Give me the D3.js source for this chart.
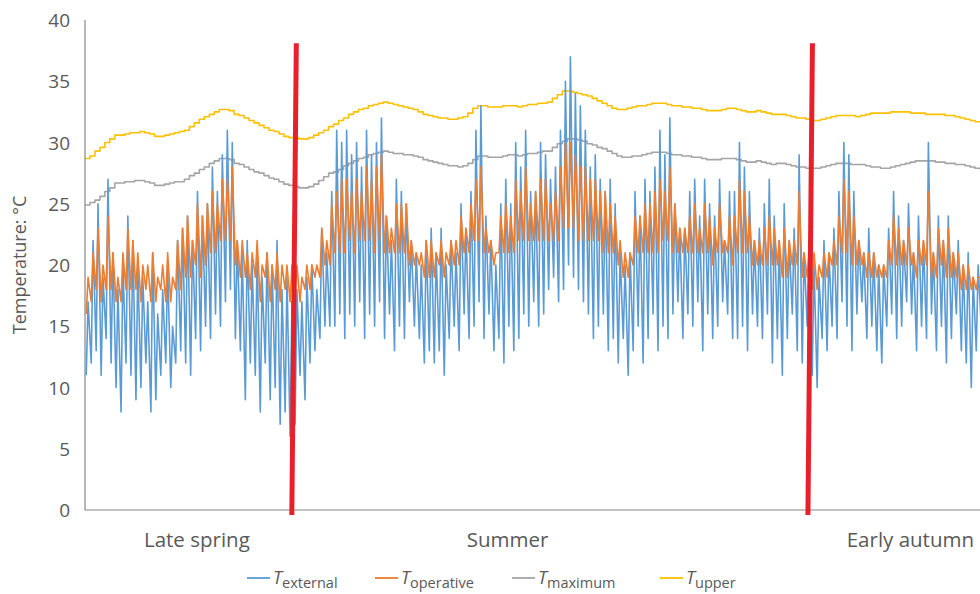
<!DOCTYPE html>
<html>
<head>
<meta charset="utf-8">
<script src="https://cdn.jsdelivr.net/npm/d3@7"></script>
<style>
  body { margin: 0; background: #fff; }
  text { font-family: "Open Sans", "Noto Sans", sans-serif; fill: #595959; }
</style>
</head>
<body>
<svg id="chart" width="980" height="594"></svg>
<script>
// daily extremes, one entry per day (day 0 .. 180)
const extMax = [17,22,25,19,27,21,18,20,24,22, 20,19,17,21,16,18,20,15,22,23, 24,22,26,24,25,28,26,29,31,30,
  22,21,22,20,21,19,21,20,22,18,19,17, 18,17,19,20,18,23,21,26, 31,30,31,29,30,28,31,29,30,32,
  24,22,27,26,25,22,21,20,22,23, 21,23,20,22,21,25,23,26,31,33, 24,22,20,25,27,25,30,28,31,26,
  26,30,29,27,28,31,35,37,34,33, 31,28,29,27,26,27,25,21,20,21, 26,24,27,26,28,31,29,32,25,23,
  23,26,27,24,27,25,24,27,22,26, 26,30,28,26,22,23,25,27,24,22, 25,22,23,29,21,22,20,19,22,21,
  23,26,30,29,26,22,21,23,21,20, 20,23,26,24,22,25,21,24,22,30, 21,24,22,24,21,22,20,21,19,20,22];
const extMin = [11,12,13,11,14,12,10,8,12,11, 9,10,12,8,9,11,12,10,12,13, 12,11,14,13,15,14,16,15,17,18,
  14,13,9,12,11,8,12,9,10,7,8,6, 7,11,9,12,13,14,15,15, 15,16,14,16,15,17,14,16,15,17,
  14,16,13,15,14,17,15,14,12,13, 12,13,11,14,15,13,16,14,15,17, 14,16,13,14,12,15,13,14,16,15,
  17,15,16,18,19,17,18,20,19,18, 17,16,14,15,16,13,14,12,14,11, 13,15,12,14,16,13,15,14,16,17,
  14,16,15,17,13,16,14,15,17,16, 14,14,15,13,16,15,14,16,12,14, 11,14,16,13,12,15,11,10,14,13,
  15,14,17,15,13,16,17,14,15,13, 12,15,16,14,15,17,16,13,15,14, 16,13,15,12,14,16,13,12,10,13,15];
const opMax = [19,21,23,20,24,21,19,21,23,22, 21,20,20,21,19,20,21,19,22,23, 24,22,25,24,25,26,25,27,27,28,
  22,22,21,21,22,20,21,20,21,20,20,20, 20,19,20,20,20,23,22,25, 26,27,27,26,27,26,28,27,28,29,
  24,23,25,25,25,22,21,21,22,22, 21,22,21,22,22,24,23,25,27,28, 23,22,21,24,25,24,27,26,28,25,
  26,27,27,25,26,28,30,30,29,28, 28,27,27,26,26,25,24,22,21,21, 24,24,25,25,26,27,26,28,25,23,
  23,24,25,23,25,24,23,25,22,24, 24,27,26,24,22,22,23,24,23,22, 23,22,22,26,21,21,21,20,21,21,
  22,24,27,26,24,22,21,21,21,20, 20,22,24,23,22,23,21,22,22,26, 21,23,22,23,21,21,20,20,19,19,20];
const opMin = [16,17,18,17,18,18,17,17,18,18, 18,17,18,17,17,18,17,17,18,18, 19,19,20,19,20,21,21,22,22,22,
  20,19,19,18,19,17,19,17,18,17,18,17, 17,17,18,18,19,19,20,20, 21,21,21,22,21,22,22,22,21,22,
  21,21,21,21,21,20,20,20,19,19, 19,20,19,20,20,20,21,21,22,22, 21,21,20,21,21,21,21,22,22,22,
  22,22,22,22,22,22,23,23,23,22, 22,22,22,22,21,21,21,20,19,19, 20,21,21,21,21,21,22,22,21,21,
  21,21,21,21,21,21,20,21,21,21, 20,21,21,21,20,20,20,20,20,20, 19,19,20,20,19,19,18,18,19,19,
  20,20,21,21,20,20,20,19,19,19, 19,19,20,20,20,20,20,19,20,20, 19,19,20,19,19,19,18,18,18,18,19];
const tMaximum = [24.9,25.1,25.3,25.6,26.0,26.3,26.7,26.7,26.8,26.8, 26.9,26.9,26.8,26.7,26.5,26.5,26.6,26.7,26.8,26.8,
  27.0,27.3,27.5,27.8,28.0,28.3,28.5,28.7,28.7,28.6, 28.3,28.2,28.0,27.8,27.6,27.5,27.3,27.1,27.0,26.8,
  26.6,26.5,26.4,26.3,26.3,26.4,26.6,26.9,27.2,27.5, 27.6,27.8,28.1,28.3,28.5,28.7,28.8,29.0,29.1,29.2,
  29.3,29.2,29.1,29.1,29.0,29.0,28.9,28.8,28.6,28.5, 28.4,28.3,28.2,28.1,28.1,28.0,28.1,28.3,28.6,28.9,
  28.9,28.8,28.8,28.8,28.9,29.0,29.0,28.9,29.0,29.1, 29.1,29.2,29.3,29.3,29.6,29.9,30.1,30.3,30.3,30.2,
  30.1,29.9,29.8,29.6,29.5,29.3,29.1,28.9,28.8,28.8, 28.9,28.9,29.0,29.1,29.2,29.2,29.2,29.1,29.0,29.0,
  28.9,28.9,28.8,28.8,28.7,28.6,28.6,28.6,28.7,28.7, 28.7,28.6,28.5,28.4,28.4,28.5,28.4,28.3,28.2,28.3,
  28.3,28.2,28.1,28.0,28.0,27.9,27.9,27.9,28.0,28.1, 28.2,28.3,28.3,28.3,28.2,28.2,28.2,28.1,28.0,28.0,
  27.9,27.9,28.0,28.1,28.2,28.3,28.4,28.5,28.5,28.5, 28.5,28.4,28.4,28.3,28.3,28.2,28.2,28.1,28.0,27.9,27.8];
const tUpper = [28.7,28.9,29.3,29.6,30.0,30.3,30.6,30.6,30.7,30.8, 30.8,30.9,30.8,30.7,30.5,30.5,30.6,30.7,30.8,30.9,
  31.0,31.3,31.6,31.9,32.1,32.3,32.5,32.7,32.7,32.6, 32.3,32.2,32.0,31.8,31.6,31.4,31.2,31.0,30.9,30.7,
  30.5,30.4,30.4,30.3,30.3,30.4,30.6,30.8,31.0,31.3, 31.5,31.8,32.0,32.3,32.5,32.7,32.8,33.0,33.1,33.2,
  33.3,33.2,33.1,33.0,32.9,32.8,32.7,32.5,32.3,32.2, 32.1,32.0,32.0,31.9,31.9,32.0,32.1,32.4,32.8,33.0,
  33.0,32.9,32.9,32.9,33.0,33.0,33.0,32.9,33.0,33.1, 33.1,33.2,33.2,33.3,33.6,33.9,34.2,34.2,34.1,34.0,
  33.9,33.8,33.6,33.4,33.2,33.0,32.8,32.7,32.7,32.8, 32.9,33.0,33.0,33.1,33.2,33.2,33.2,33.1,33.0,33.0,
  32.9,32.9,32.8,32.8,32.7,32.6,32.6,32.6,32.7,32.8, 32.8,32.7,32.6,32.5,32.5,32.6,32.5,32.4,32.3,32.3,
  32.3,32.2,32.1,32.0,32.0,31.9,31.8,31.8,31.9,32.0, 32.1,32.2,32.2,32.2,32.2,32.1,32.2,32.3,32.4,32.4,
  32.4,32.4,32.5,32.5,32.5,32.5,32.4,32.4,32.4,32.3, 32.3,32.3,32.3,32.2,32.2,32.1,32.0,31.9,31.8,31.7,31.7];

const seasons = [{name: "Late spring", mid: 22.5}, {name: "Summer", mid: 85}, {name: "Early autumn", mid: 166}];
const seasonBreaks = [42.4, 146.2];
const yTicks = [0, 5, 10, 15, 20, 25, 30, 35, 40];

const svg = d3.select("#chart");
const x = d3.scaleLinear().domain([0, 180]).range([85, 980]);
const y = d3.scaleLinear().domain([0, 40]).range([510, 20]);

// daily cycle: minimum early morning, maximum mid afternoon
const daily = (mx, mn) => mx.flatMap((v, d) => [[d + 0.25, mn[d]], [d + 0.62, v]]);

const line = d3.line().x(d => x(d[0])).y(d => y(d[1]));
const step = d3.line().x(d => x(d[0])).y(d => y(d[1])).curve(d3.curveStepAfter);

const stepData = arr => arr.map((v, d) => [d, v]);

const series = [
  {data: stepData(tUpper), gen: step, color: "#ffc000"},
  {data: stepData(tMaximum), gen: step, color: "#a5a5a5"},
  {data: daily(extMax, extMin), gen: line, color: "#5b9bd5"},
  {data: daily(opMax, opMin), gen: line, color: "#ed7d31"}
];

svg.append("g").selectAll("path").data(series).join("path")
  .attr("d", s => s.gen(s.data))
  .attr("fill", "none")
  .attr("stroke", s => s.color)
  .attr("stroke-width", 1.6)
  .attr("stroke-linejoin", "round");

// axes lines
svg.append("line").attr("x1", 85).attr("x2", 85).attr("y1", 20).attr("y2", 510)
  .attr("stroke", "#868686").attr("stroke-width", 1.2);
svg.append("line").attr("x1", 85).attr("x2", 980).attr("y1", 510).attr("y2", 510)
  .attr("stroke", "#868686").attr("stroke-width", 1.2);

svg.append("g").selectAll("text").data(yTicks).join("text")
  .attr("x", 70).attr("y", d => y(d) + 7)
  .attr("text-anchor", "end").attr("font-size", 19)
  .text(d => d);

svg.append("text")
  .attr("transform", "translate(26,265) rotate(-90)")
  .attr("text-anchor", "middle").attr("font-size", 18)
  .text("Temperature: °C");

svg.append("g").selectAll("text").data(seasons).join("text")
  .attr("x", d => x(d.mid)).attr("y", 547)
  .attr("text-anchor", "middle").attr("font-size", 20.5)
  .text(d => d.name);

// season boundaries
svg.append("g").selectAll("line").data(seasonBreaks).join("line")
  .attr("x1", d => x(d) + 0.5).attr("x2", d => x(d) - 4)
  .attr("y1", y(38.1)).attr("y2", y(-0.4))
  .attr("stroke", "#e8202a").attr("stroke-width", 5);

// legend
const legend = [
  {sub: "external", color: "#5b9bd5", x: 247},
  {sub: "operative", color: "#ed7d31", x: 375},
  {sub: "maximum", color: "#a5a5a5", x: 512},
  {sub: "upper", color: "#ffc000", x: 660}
];
const lg = svg.append("g").selectAll("g").data(legend).join("g")
  .attr("transform", d => `translate(${d.x},578)`);
lg.append("line").attr("x1", 0).attr("x2", 23).attr("y1", 0).attr("y2", 0)
  .attr("stroke", d => d.color).attr("stroke-width", 1.8);
const lt = lg.append("text").attr("x", 26).attr("y", 6).attr("font-size", 18);
lt.append("tspan").attr("font-style", "italic").text("T");
lt.append("tspan").attr("font-size", 14.5).attr("dy", 4).text(d => d.sub);
</script>
</body>
</html>
